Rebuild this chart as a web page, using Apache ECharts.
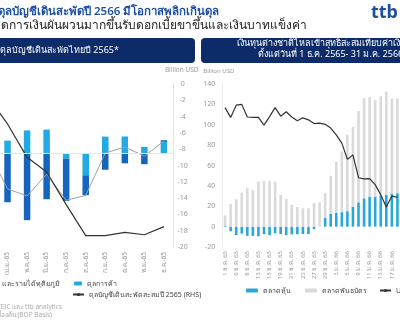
<!DOCTYPE html>
<html><head><meta charset="utf-8">
<script src="https://cdn.jsdelivr.net/npm/echarts@6/dist/echarts.min.js"></script>
<style>html,body{margin:0;padding:0;background:#fff}#c{width:400px;height:323px}</style>
</head><body><div id="c"></div>
<script>
// ---- Left chart: Thai current account 2565 ----
const months = ["มี.ค.-65","เม.ย.-65","พ.ค.-65","มิ.ย.-65","ก.ค.-65","ส.ค.-65","ก.ย.-65","ต.ค.-65","พ.ย.-65","ธ.ค.-65"];
const tradeBal = [2.3, 1.19, 2.13, 2.2, -0.46, -2.0, 1.56, 1.57, 0.61, 1.08];
const servIncome = [-2.0, -4.48, -6.13, -4.2, -3.9, -1.83, -1.49, -0.9, -0.98, 0.15];
const caMonthly = [0.3, -3.25, -3.9, -1.9, -4.3, -3.85, 0.05, 0.6, -0.25, 1.15];
const caCumul = [-1.6, -4.9, -9.0, -10.8, -14.8, -18.6, -18.6, -18.2, -18.5, -17.5];
// ---- Right chart: foreign fund flows since 1 Dec 2565 ----
const dates = ["1 ธ.ค. 65","2 ธ.ค. 65","6 ธ.ค. 65","7 ธ.ค. 65","8 ธ.ค. 65","9 ธ.ค. 65","13 ธ.ค. 65","14 ธ.ค. 65","15 ธ.ค. 65","16 ธ.ค. 65","19 ธ.ค. 65","20 ธ.ค. 65","21 ธ.ค. 65","22 ธ.ค. 65","23 ธ.ค. 65","26 ธ.ค. 65","27 ธ.ค. 65","28 ธ.ค. 65","29 ธ.ค. 65","30 ธ.ค. 65","3 ม.ค. 66","4 ม.ค. 66","5 ม.ค. 66","6 ม.ค. 66","9 ม.ค. 66","10 ม.ค. 66","11 ม.ค. 66","12 ม.ค. 66","13 ม.ค. 66","16 ม.ค. 66","17 ม.ค. 66","18 ม.ค. 66"];
const stockFlow = [1, -4.6, -8.2, -6.8, -9.1, -9.1, -9.5, -7.3, -8.4, -6.5, -7.3, -8.4, -7.5, -7.5, -7.3, -7.3, -2.5, 0, 8.5, 12.7, 13.8, 14.2, 15.2, 19.6, 23.8, 27.8, 29.4, 29.2, 30.5, 31, 32.5, 32.8];
const bondFlow = [10, 22, 27, 33.4, 37.7, 36, 44.2, 44.8, 45.2, 44.2, 31.1, 27.2, 21.3, 19.3, 18, 18, 23.3, 23.6, 24.5, 37.1, 50, 59.6, 75, 78.4, 89.6, 98.2, 97.9, 95, 97.5, 101.5, 93.1, 92.8];
const usdthb = [35.42, 35.18, 35.48, 35.50, 35.19, 35.18, 35.18, 34.99, 35.20, 35.42, 35.21, 35.32, 35.19, 35.10, 35.17, 35.12, 35.03, 35.04, 35.01, 34.92, 34.75, 34.55, 34.15, 34.26, 33.70, 33.67, 33.68, 33.53, 33.28, 32.98, 33.25, 33.22];
const leftTicks = {min: -20, max: 0, interval: 2};
const rightTicks = {min: -20, max: 140, interval: 20};

const FF = "'Noto Sans', sans-serif";
const chart = echarts.init(document.getElementById('c'), null, {renderer: 'canvas'});
const axLbl = {fontSize: 7, color: '#999', fontFamily: FF};
const legTxt = {fontSize: 7, color: '#444', fontFamily: FF};

chart.setOption({
  animation: false,
  backgroundColor: '#fff',
  grid: [
    {left: -21.8, top: 84, width: 195.5, height: 163, outerBoundsMode: 'none', containLabel: false},
    {left: 222.3, top: 84, width: 177.9, height: 163, outerBoundsMode: 'none', containLabel: false}
  ],
  xAxis: [
    {type: 'category', gridIndex: 0, data: months, axisLine: {show: false}, axisTick: {show: false},
     axisLabel: {rotate: 90, fontSize: 6.5, color: '#999', margin: 5, fontFamily: FF, interval: 0}},
    {type: 'category', gridIndex: 1, data: dates, axisLine: {show: false}, axisTick: {show: false},
     axisLabel: {rotate: 90, fontSize: 6, color: '#999', margin: 4, fontFamily: FF, interval: 1}}
  ],
  yAxis: [
    {type: 'value', gridIndex: 0, min: -8.6, max: 6.4, show: false, splitLine: {show: false}},
    {type: 'value', gridIndex: 0, position: 'right', min: leftTicks.min, max: leftTicks.max, interval: leftTicks.interval,
     axisLine: {show: true, lineStyle: {color: '#e3e3e3'}}, axisTick: {show: false}, splitLine: {show: false},
     axisLabel: Object.assign({align: 'center', margin: 9}, axLbl),
     name: 'Billion USD', nameGap: 10, nameTextStyle: {fontSize: 6.5, color: '#999', fontFamily: FF, align: 'center', padding: [0, 0, 0, 16]}},
    {type: 'value', gridIndex: 1, position: 'left', min: rightTicks.min, max: rightTicks.max, interval: rightTicks.interval,
     axisLine: {show: true, lineStyle: {color: '#ececec'}}, axisTick: {show: false}, splitLine: {show: false},
     axisLabel: Object.assign({margin: 7}, axLbl),
     name: 'Billion USD', nameGap: 10, nameTextStyle: {fontSize: 6, color: '#999', fontFamily: FF, align: 'right', padding: [0, -12, 0, 0]}},
    {type: 'value', gridIndex: 1, position: 'right', min: 32, max: 36, show: false, splitLine: {show: false}}
  ],
  legend: [
    {right: 335, top: 275, itemWidth: 8, itemHeight: 4, textStyle: legTxt, data: ['ดุลบริการ รายได้ปฐมภูมิ และรายได้ทุติยภูมิ']},
    {left: 69, top: 275, itemWidth: 8, itemHeight: 4, textStyle: legTxt, data: ['ดุลการค้า']},
    {left: 67, top: 286, itemWidth: 11, itemHeight: 4, textStyle: legTxt, data: ['ดุลบัญชีเดินสะพัดสะสมปี 2565 (RHS)']},
    {left: 241, top: 282, itemWidth: 12, itemHeight: 4, textStyle: legTxt, data: ['ตลาดหุ้น']},
    {left: 300, top: 282, itemWidth: 12, itemHeight: 4, textStyle: legTxt, data: ['ตลาดพันธบัตร']},
    {left: 374, top: 282, itemWidth: 11, itemHeight: 4, textStyle: legTxt, data: ['USDTHB (RHS)']}
  ],
  series: [
    {name: 'ดุลการค้า', type: 'bar', xAxisIndex: 0, yAxisIndex: 0, stack: 'ca', data: tradeBal, barWidth: 6.5,
     itemStyle: {color: '#23a9e3'},
     markLine: {silent: true, symbol: 'none', label: {show: false}, lineStyle: {color: '#e6e6e6', type: 'solid', width: 1}, data: [{yAxis: 0}]}},
    {name: 'ดุลบริการ รายได้ปฐมภูมิ และรายได้ทุติยภูมิ', type: 'bar', xAxisIndex: 0, yAxisIndex: 0, stack: 'ca', data: servIncome, barWidth: 6.5,
     itemStyle: {color: '#1565be'}},
    {name: 'ดุลบัญชีเดินสะพัด', type: 'line', xAxisIndex: 0, yAxisIndex: 0, data: caMonthly, symbol: 'none',
     lineStyle: {color: '#a0a0a0', width: 1}},
    {name: 'ดุลบัญชีเดินสะพัดสะสมปี 2565 (RHS)', type: 'line', xAxisIndex: 0, yAxisIndex: 1, data: caCumul, symbol: 'none',
     lineStyle: {color: '#333', width: 1.2}, itemStyle: {color: '#333'}},
    {name: 'ตลาดหุ้น', type: 'bar', xAxisIndex: 1, yAxisIndex: 2, stack: 'flow', data: stockFlow, barWidth: 2.6,
     itemStyle: {color: '#28a7d8'}},
    {name: 'ตลาดพันธบัตร', type: 'bar', xAxisIndex: 1, yAxisIndex: 2, stack: 'flow', data: bondFlow, barWidth: 2.6,
     itemStyle: {color: '#dadada'}},
    {name: 'USDTHB (RHS)', type: 'line', xAxisIndex: 1, yAxisIndex: 3, data: usdthb, symbol: 'none',
     lineStyle: {color: '#333', width: 1.2}, itemStyle: {color: '#333'}}
  ],
  graphic: [
    {type: 'text', left: -2, top: 6, style: {text: 'ดุลบัญชีเดินสะพัดปี 2566 มีโอกาสพลิกเกินดุล', fill: '#1f4f9f', font: "600 11.5px " + FF}},
    {type: 'text', left: -21, top: 20, style: {text: 'ตลาดการเงินผันผวนมากขึ้นรับดอกเบี้ยขาขึ้นและเงินบาทแข็งค่า', fill: '#222', font: "12px " + FF}},
    {type: 'text', right: 2, top: 4, style: {text: 'ttb', fill: '#1f4fa0', font: "bold 18px " + FF}},
    {type: 'rect', shape: {x: -10, y: 38, width: 205, height: 25, r: 4}, style: {fill: '#0c2b68'}},
    {type: 'rect', shape: {x: 201, y: 38, width: 260, height: 25, r: 4}, style: {fill: '#0c2b68'}},
    {type: 'text', left: 0, top: 46, style: {text: 'ดุลบัญชีเดินสะพัดไทยปี 2565*', fill: '#fff', font: "9px " + FF}},
    {type: 'text', left: 237, top: 39, style: {text: 'เงินทุนต่างชาติไหลเข้าสุทธิสะสมเทียบค่าเงินบาท', fill: '#fff', font: "9px " + FF}},
    {type: 'text', left: 258, top: 50, style: {text: 'ตั้งแต่วันที่ 1 ธ.ค. 2565- 31 ม.ค. 2566', fill: '#fff', font: "9px " + FF}},
    {type: 'text', right: 338, top: 304, style: {text: 'ที่มา: CEIC และ ttb analytics', fill: '#aaa', font: "6.5px " + FF}},
    {type: 'text', right: 348, top: 312, style: {text: 'หมายเหตุ: *ข้อมูลเบื้องต้น (BOP Basis)', fill: '#aaa', font: "6.5px " + FF}}
  ]
});
</script></body></html>
